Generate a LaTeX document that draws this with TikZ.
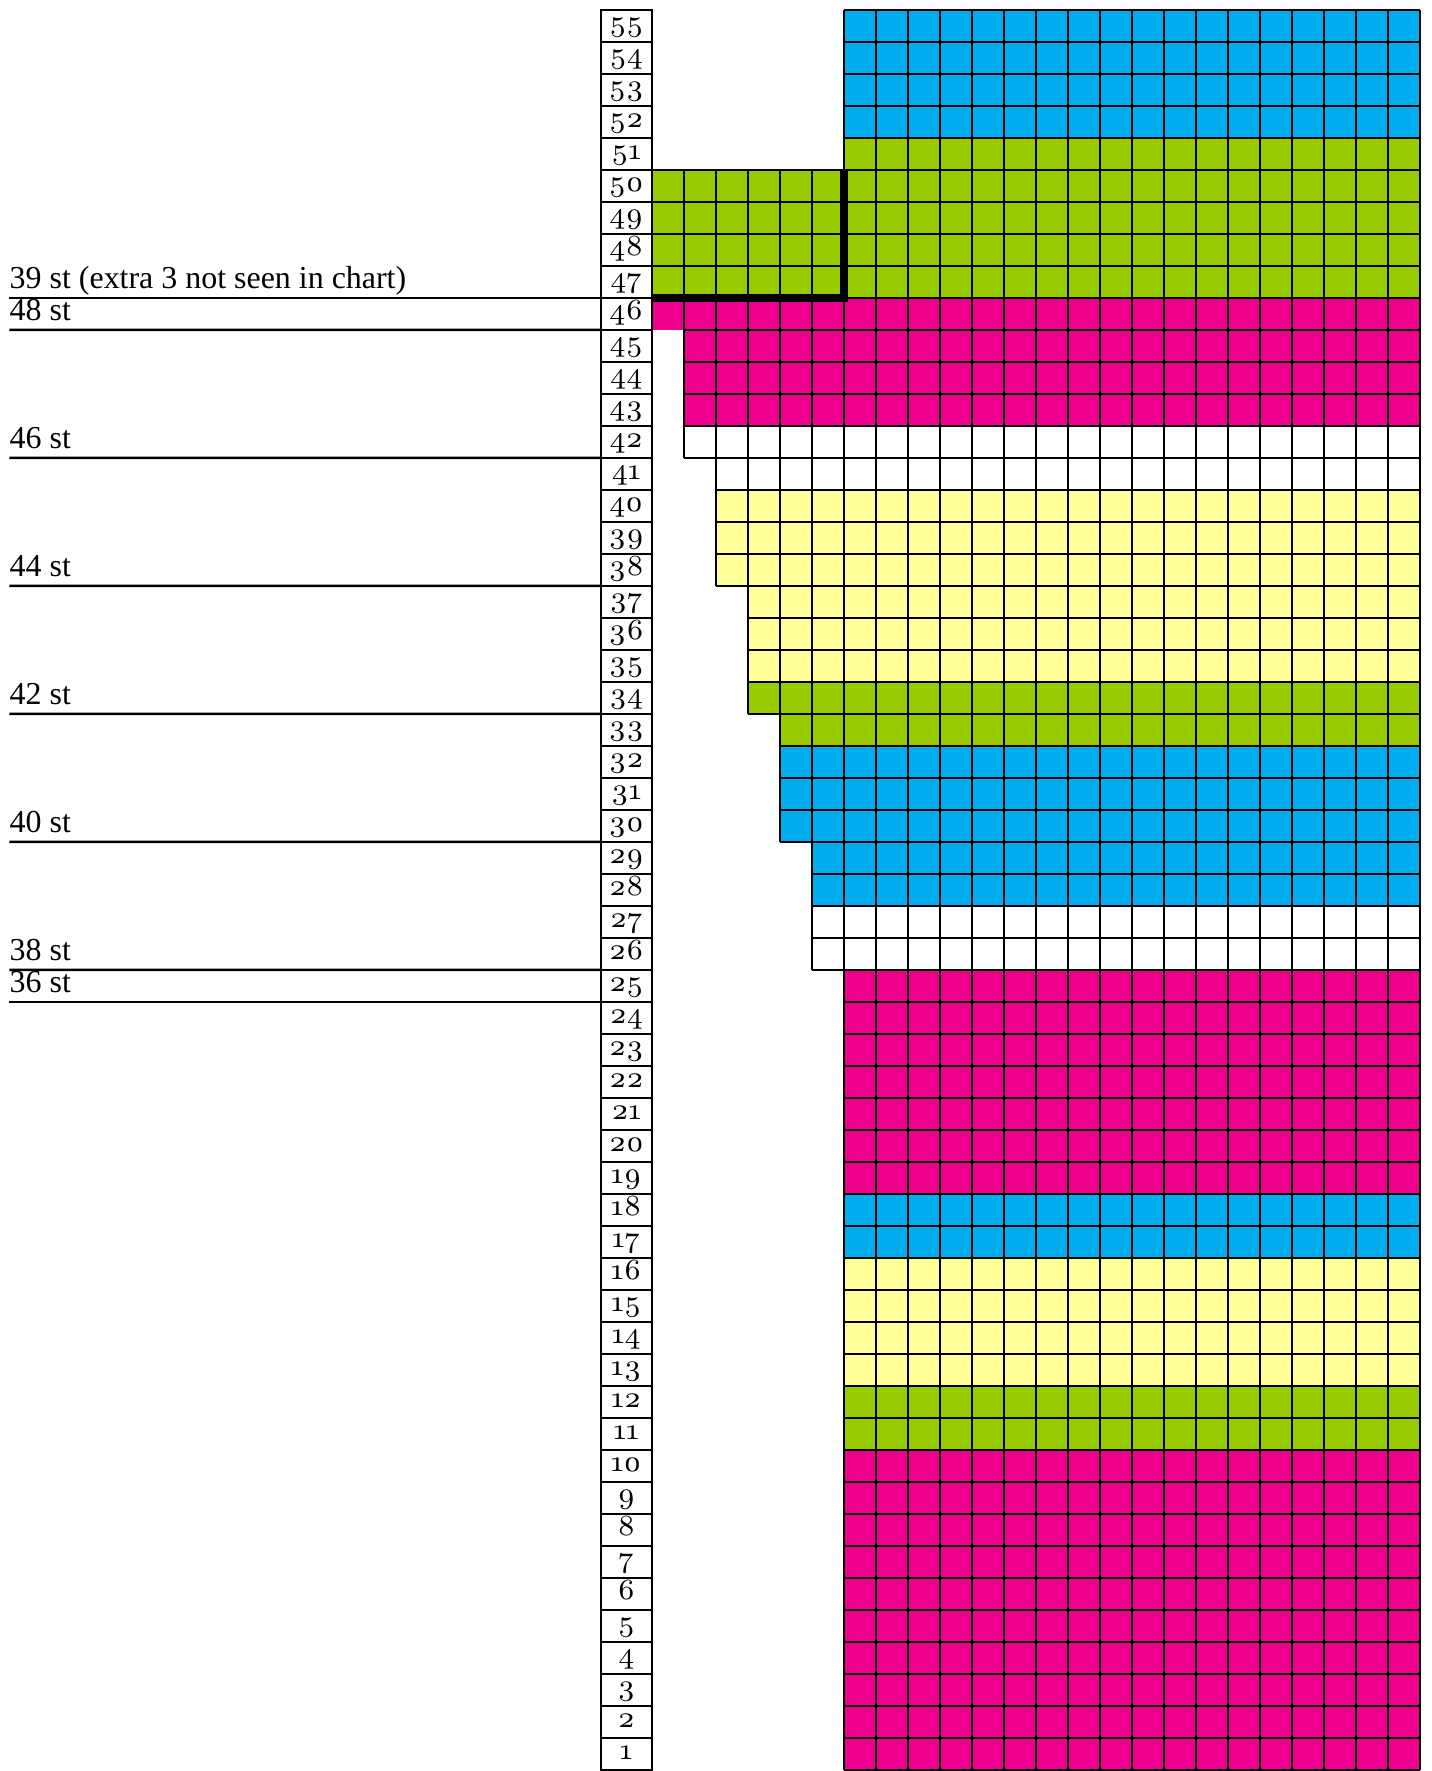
\documentclass[tikz,border=0pt]{standalone}
\usepackage{fontspec}
\newfontfamily\labelfont{Liberation Serif}
\newfontfamily\rownumfont[Numbers=OldStyle]{lmroman8-regular.otf}
\definecolor{chartblue}{RGB}{0,174,239}
\definecolor{chartgreen}{RGB}{153,204,0}
\definecolor{chartpink}{RGB}{236,0,140}
\definecolor{chartyellow}{RGB}{255,255,153}
\tikzset{
  row num/.style={draw=black, line width=1pt, fill=white, inner sep=0pt,
    outer sep=0pt, minimum width=0.8cm, minimum height=0.5cm,
    text height=0.33cm, text depth=0.17cm,
    font=\rownumfont\fontsize{13}{13}\selectfont},
  grid line/.style={draw=black, line width=1pt},
  stitch label/.style={anchor=base west, inner sep=0pt,
    font=\labelfont\fontsize{14.2}{16}\selectfont},
  label line/.style={line width=1.1pt},
  thick edge/.style={line width=3.3pt, line join=miter}
}

\begin{document}
\begin{tikzpicture}[scale=0.5]
  \useasboundingbox (-20.37,-0.03) rectangle (24.35,55.31);

  % stripes: first row / last row / first column / colour
  \fill[chartpink] (0,45) rectangle (1,46);
  \foreach \a/\b/\s/\c in {1/10/6/chartpink, 11/12/6/chartgreen,
      13/16/6/chartyellow, 17/18/6/chartblue, 19/25/6/chartpink,
      26/27/5/white, 28/29/5/chartblue, 30/32/4/chartblue,
      33/33/4/chartgreen, 34/34/3/chartgreen, 35/37/3/chartyellow,
      38/40/2/chartyellow, 41/41/2/white, 42/42/1/white,
      43/46/1/chartpink, 47/50/0/chartgreen, 51/51/6/chartgreen,
      52/55/6/chartblue} {
    \fill[\c] (\s,\a-1) rectangle (24,\b);
    \draw[grid line] (\s,\a-1) grid (24,\b);
  }
  \draw[thick edge] (0,46) -- (6,46) -- (6,50);

  % row numbers
  \foreach \r in {1,...,55} {
    \node[row num] (n\r) at (-0.8,\r-0.5) {\r};
  }

  % stitch counts
  \foreach \k/\txt in {46/{39 st (extra 3 not seen in chart)}, 45/48 st,
      41/46 st, 37/44 st, 33/42 st, 29/40 st, 25/38 st, 24/36 st} {
    \pgfmathtruncatemacro{\up}{\k+1}
    \coordinate (s\k) at (-20.08,\k);
    \node[stitch label] (l\k) at (-20.08,\k+0.31) {\txt};
    \draw[label line] (s\k) -- (n\up.south west);
  }
\end{tikzpicture}
\end{document}
